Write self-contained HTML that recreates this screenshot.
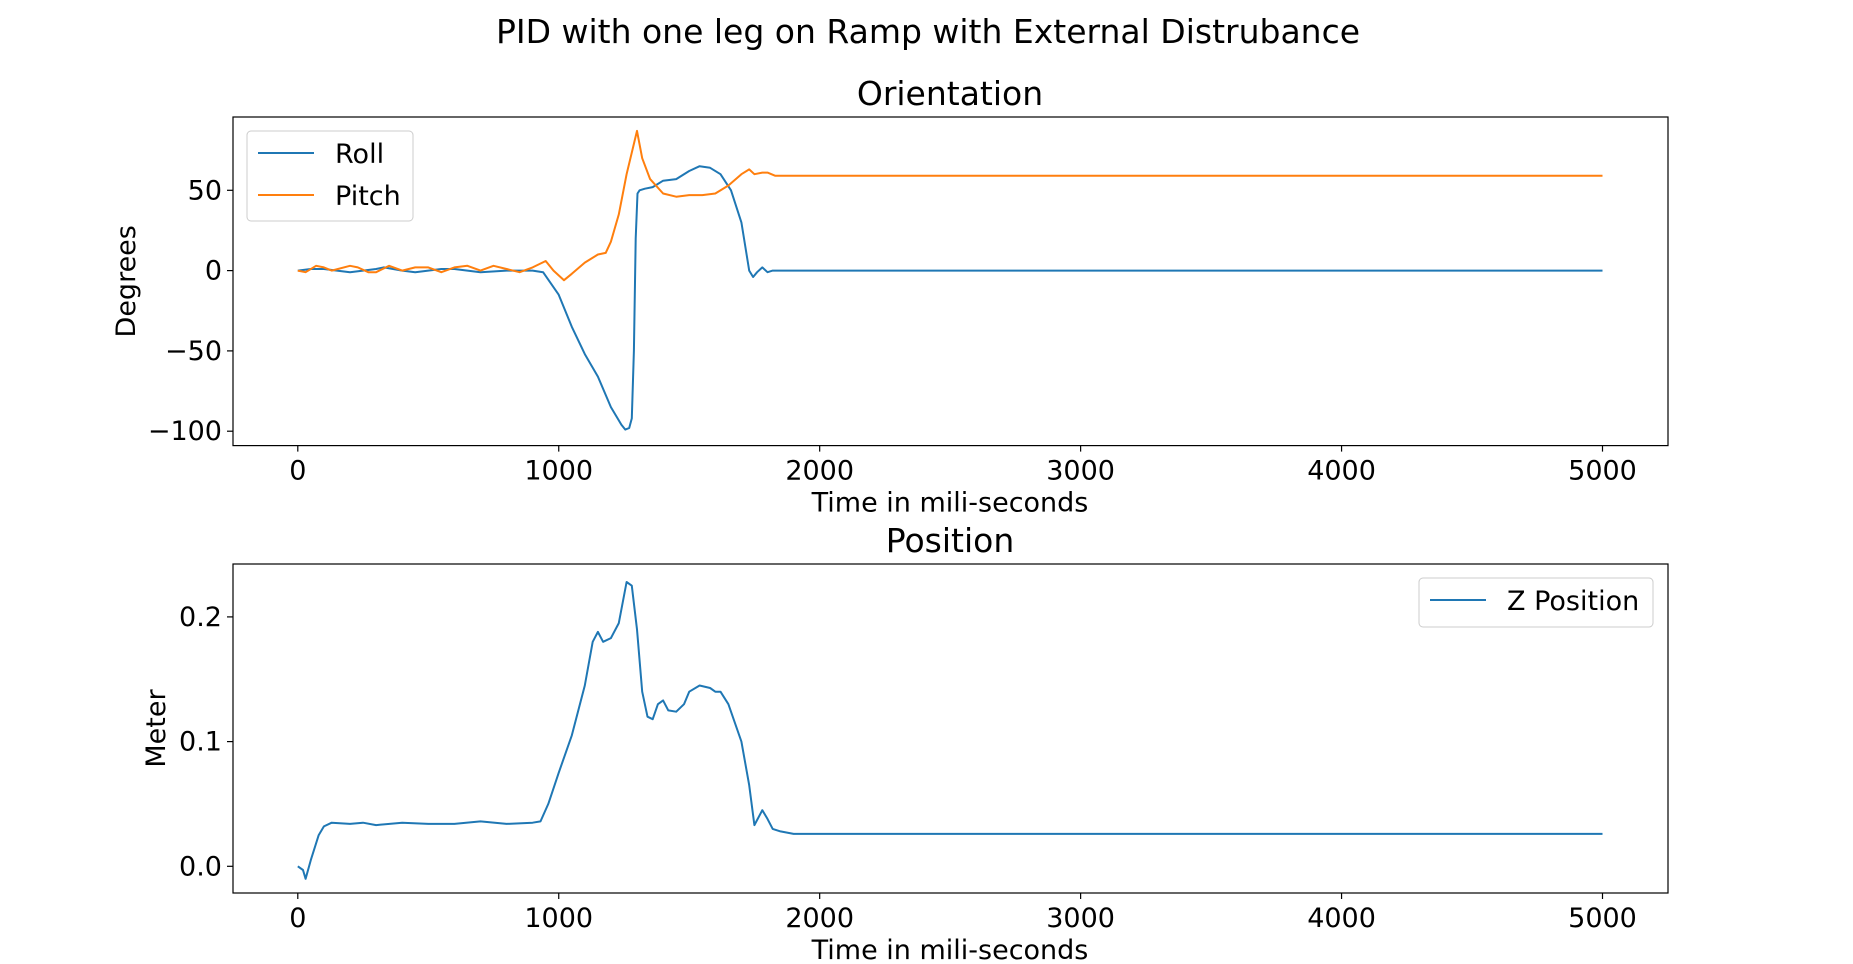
<!DOCTYPE html>
<html><head><meta charset="utf-8"><style>
body{margin:0;background:#fff;}
svg{display:block;font-family:"DejaVu Sans","Liberation Sans",sans-serif;}
</style></head><body>
<svg id="fig" width="1853" height="964" viewBox="0 0 1853 964">
<text x="928" y="43" font-size="33" text-anchor="middle">PID with one leg on Ramp with External Distrubance</text>
</svg>
<script>
const rollT=[0,50,100,200,300,330,400,450,550,600,700,800,900,940,1000,1050,1100,1150,1200,1240,1255,1270,1280,1288,1295,1302,1310,1330,1360,1400,1450,1500,1540,1580,1620,1660,1700,1730,1745,1760,1780,1800,1820,1840,2000,5000];
const rollV=[0,1,1,-1,1,2,0,-1,1,1,-1,0,0,-1,-15,-35,-52,-66,-85,-96,-99,-98,-92,-50,20,48,50,51,52,56,57,62,65,64,60,50,30,0,-4,-1,2,-1,0,0,0,0];
const pitchT=[0,30,70,100,130,200,230,270,300,350,400,450,500,550,600,650,700,750,800,850,900,950,980,1020,1050,1100,1150,1180,1200,1230,1260,1300,1320,1350,1400,1450,1500,1550,1600,1650,1700,1730,1750,1780,1800,1830,1900,5000];
const pitchV=[0,-1,3,2,0,3,2,-1,-1,3,0,2,2,-1,2,3,0,3,1,-1,2,6,0,-6,-2,5,10,11,18,35,60,87,70,57,48,46,47,47,48,53,60,63,60,61,61,59,59,59];
const zT=[0,20,30,50,80,100,130,200,250,300,400,500,600,700,800,900,930,960,1000,1050,1100,1130,1150,1170,1200,1230,1260,1280,1300,1320,1340,1360,1380,1400,1420,1450,1480,1500,1540,1580,1600,1620,1650,1700,1730,1750,1780,1800,1820,1850,1900,5000];
const zV=[0,-0.003,-0.01,0.005,0.025,0.032,0.035,0.034,0.035,0.033,0.035,0.034,0.034,0.036,0.034,0.035,0.036,0.05,0.075,0.105,0.145,0.18,0.188,0.18,0.183,0.195,0.228,0.225,0.19,0.14,0.12,0.118,0.13,0.133,0.125,0.124,0.13,0.14,0.145,0.143,0.14,0.14,0.13,0.1,0.065,0.033,0.045,0.038,0.03,0.028,0.026,0.026];
const xTicks=[0,1000,2000,3000,4000,5000];
const topTicks=[-100,-50,0,50];
const botTicks=[0.0,0.1,0.2];

const NS="http://www.w3.org/2000/svg";
const svg=document.getElementById('fig');
function mk(tag,attrs,parent){const e=document.createElementNS(NS,tag);for(const k in attrs)e.setAttribute(k,attrs[k]);(parent||svg).appendChild(e);return e;}
const xs=t=>297.8+t*0.26094;
const yTop=v=>270.6-v*1.606;
const yBot=v=>866.3-v*1247;
function fmt(v){return v<0?'\u2212'+Math.abs(v):String(v);}

function axes(top,bottom,yfn,ticks,tickFmt,title,ylabel,ylabelX,name){
  const g=mk('g',{});
  
  
  const r=mk('rect',{x:233,y:top,width:1435,height:bottom-top,fill:'none',stroke:'#000','stroke-width':1.2},g);
  
  
  xTicks.forEach(t=>{
    mk('line',{x1:xs(t),x2:xs(t),y1:bottom,y2:bottom+6,stroke:'#000','stroke-width':1.2},g);
    const tx=mk('text',{x:xs(t),y:bottom+34,'font-size':27,'text-anchor':'middle'},g);
    tx.textContent=t;
    
    
  });
  ticks.forEach(v=>{
    mk('line',{x1:227,x2:233,y1:yfn(v),y2:yfn(v),stroke:'#000','stroke-width':1.2},g);
    const tx=mk('text',{x:222,y:yfn(v)+9,'font-size':27,'text-anchor':'end'},g);
    tx.textContent=tickFmt(v);
    
    
  });
  const xl=mk('text',{x:950,y:bottom+66,'font-size':27,'text-anchor':'middle'},g);
  xl.textContent='Time in mili-seconds';
  
  
  const yl=mk('text',{x:ylabelX,y:(top+bottom)/2,'font-size':27,'text-anchor':'middle',transform:`rotate(-90 ${ylabelX} ${(top+bottom)/2})`},g);
  yl.textContent=ylabel;
  
  
  const tt=mk('text',{x:950,y:top-12,'font-size':33,'text-anchor':'middle'},g);
  tt.textContent=title;
  
  
  return g;
}
function line(T,V,yfn,color,name,g){
  const d=T.map((t,i)=>(i?'L':'M')+xs(t).toFixed(1)+','+yfn(V[i]).toFixed(1)).join('');
  const p=mk('path',{d:d,fill:'none',stroke:color,'stroke-width':2,'stroke-linejoin':'round'},g);
  
  
}
const g1=axes(117,445.6,yTop,topTicks,fmt,'Orientation','Degrees',135,'orientation-chart');
line(rollT,rollV,yTop,'#1f77b4','roll-line',g1);
line(pitchT,pitchV,yTop,'#ff7f0e','pitch-line',g1);
const g2=axes(564,893,yBot,botTicks,v=>v.toFixed(1),'Position','Meter',165,'position-chart');
line(zT,zV,yBot,'#1f77b4','z-position-line',g2);

function legend(x,y,w,h,entries,name){
  const g=mk('g',{});
  
  
  mk('rect',{x:x,y:y,width:w,height:h,rx:4,fill:'#fff','fill-opacity':0.8,stroke:'#ccc'},g);
  entries.forEach((e,i)=>{
    const cy=y+22+i*42;
    mk('line',{x1:x+11,x2:x+67,y1:cy,y2:cy,stroke:e[1],'stroke-width':2},g);
    const t=mk('text',{x:x+88,y:cy+10,'font-size':27},g);
    t.textContent=e[0];
    
    
  });
}
legend(247,131,166,90,[['Roll','#1f77b4'],['Pitch','#ff7f0e']],'orientation-legend');
legend(1419,578,234,49,[['Z Position','#1f77b4']],'position-legend');
</script>
</body></html>
